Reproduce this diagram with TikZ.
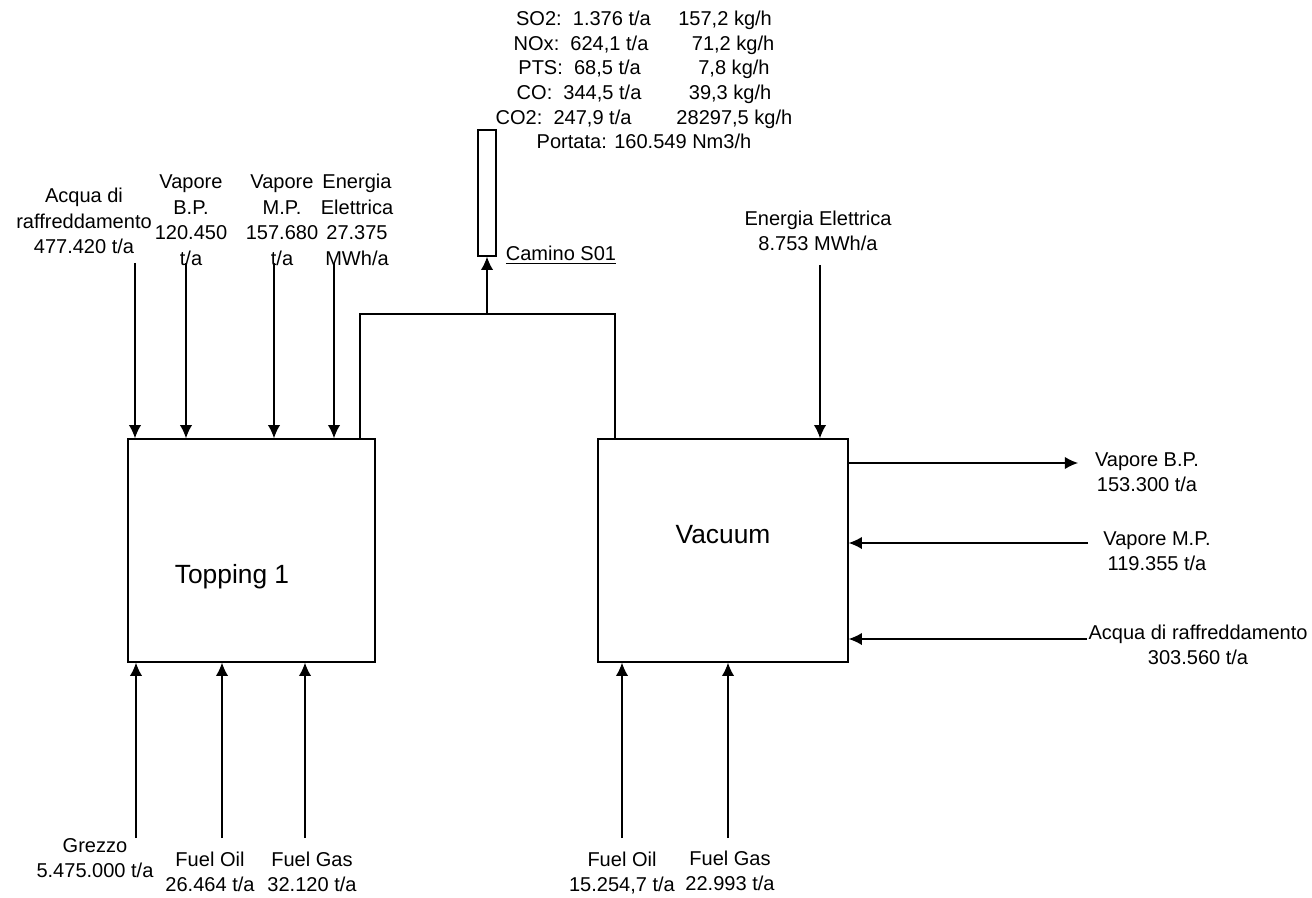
\documentclass[tikz,border=0pt]{standalone}
\usepackage{fontspec}
\setmainfont{Liberation Sans}
\usetikzlibrary{arrows.meta}

\begin{document}
\begin{tikzpicture}[x=0.02cm, y=-0.02cm,
  lbl/.style={align=center, inner sep=0pt, font=\fontsize{11.4}{14.5}\selectfont},
  unit/.style={draw, line width=0.9pt, inner sep=0pt, minimum height=4.46cm},
  flow/.style={-{Latex[length=7.5pt,width=7pt]}, line width=0.7pt}]%
  \def\wt{4.94cm}%
  \def\wv{5.0cm}%
  \def\ytop{263}
  \def\ybot{838}
  \useasboundingbox (0,0) rectangle (1312,898);

  %units:
  \node[unit, minimum width=\wt] (topp) at (251.5,550.5) {};
  \node[unit, minimum width=\wv] (vac) at (723,550.5) {};
  \node[font=\fontsize{15}{18}\selectfont] (topplbl) at (232,577) {Topping 1};
  \node[font=\fontsize{15}{18}\selectfont] (vaclbl) at (723,535) {Vacuum};

  %chimney
  \node[draw, line width=0.9pt, minimum width=0.36cm, minimum height=2.52cm, inner sep=0pt] (camino) at (487,193) {};
  \node[lbl] (caminolbl) at (561,255) {\underline{Camino S01}};
  \node[lbl, font=\fontsize{11.4}{14}\selectfont] (emis) at (644,80) {%
    SO2:\ \ 1.376 t/a\hspace{0.55cm}157,2 kg/h\\
    NOx:\ \ 624,1 t/a\hspace{0.87cm}71,2 kg/h\\
    PTS:\ \ 68,5 t/a\hspace{1.15cm}7,8 kg/h\\
    CO:\ \ 344,5 t/a\hspace{0.95cm}39,3 kg/h\\
    CO2:\ \ 247,9 t/a\hspace{0.9cm}28297,5 kg/h\\
    Portata: 160.549 Nm3/h};
  \coordinate (jn) at (487,314);
  \coordinate (tl) at (360,439);
  \coordinate (vl) at (615,439);
  \draw[line width=0.9pt] (tl) |- (jn) -| (vl);
  \draw[flow] (jn) -- (jn |- camino.south);

  %inputs Topping 1, top
  \node[lbl] (acq1) at (84,221) {Acqua di\\raffreddamento\\477.420 t/a};
  \node[lbl] (vbp1) at (191,220) {Vapore\\B.P.\\120.450\\t/a};
  \node[lbl] (vmp1) at (282,220) {Vapore\\M.P.\\157.680\\t/a};
  \node[lbl] (ee1) at (357,220) {Energia\\Elettrica\\27.375\\MWh/a};
  \foreach \x/\n in {135/a,186/b,274/c,334/d}{
    \coordinate (in\n) at (\x,\ytop);
    \draw[flow] (in\n) -- (in\n |- topp.north);
  }

  %inputs Topping 1, bottom
  \node[lbl] (grezzo) at (95,858) {Grezzo\\5.475.000 t/a};
  \node[lbl] (fo1) at (210,872) {Fuel Oil\\26.464 t/a};
  \node[lbl] (fg1) at (312,872) {Fuel Gas\\32.120 t/a};
  \foreach \x/\n in {136/a,222/b,305/c}{
    \coordinate (bt\n) at (\x,\ybot);
    \draw[flow] (bt\n) -- (bt\n |- topp.south);
  }

  %inputs Vacuum, bottom
  \node[lbl] (fo2) at (622,873) {Fuel Oil\\15.254,7 t/a};
  \node[lbl] (fg2) at (730,871) {Fuel Gas\\22.993 t/a};
  \foreach \x/\n in {622/a,728/b}{
    \coordinate (bv\n) at (\x,\ybot);
    \draw[flow] (bv\n) -- (bv\n |- vac.south);
  }

  %Vacuum, top and right
  \node[lbl] (ee2) at (818,231) {Energia Elettrica\\8.753 MWh/a};
  \coordinate (ine) at (820,265);
  \draw[flow] (ine) -- (ine |- vac.north);

  \node[lbl] (vbp2) at (1147,472) {Vapore B.P.\\153.300 t/a};
  \node[lbl] (vmp2) at (1157,551) {Vapore M.P.\\119.355 t/a};
  \node[lbl] (acq2) at (1198,645) {Acqua di raffreddamento\\303.560 t/a};
  \coordinate (obp) at (1078,463);
  \coordinate (imp) at (1088,543);
  \coordinate (iaq) at (1087,639);
  \draw[flow] (vac.east |- obp) -- (obp);
  \draw[flow] (imp) -- (vac.east |- imp);
  \draw[flow] (iaq) -- (vac.east |- iaq);
\end{tikzpicture}
\end{document}
